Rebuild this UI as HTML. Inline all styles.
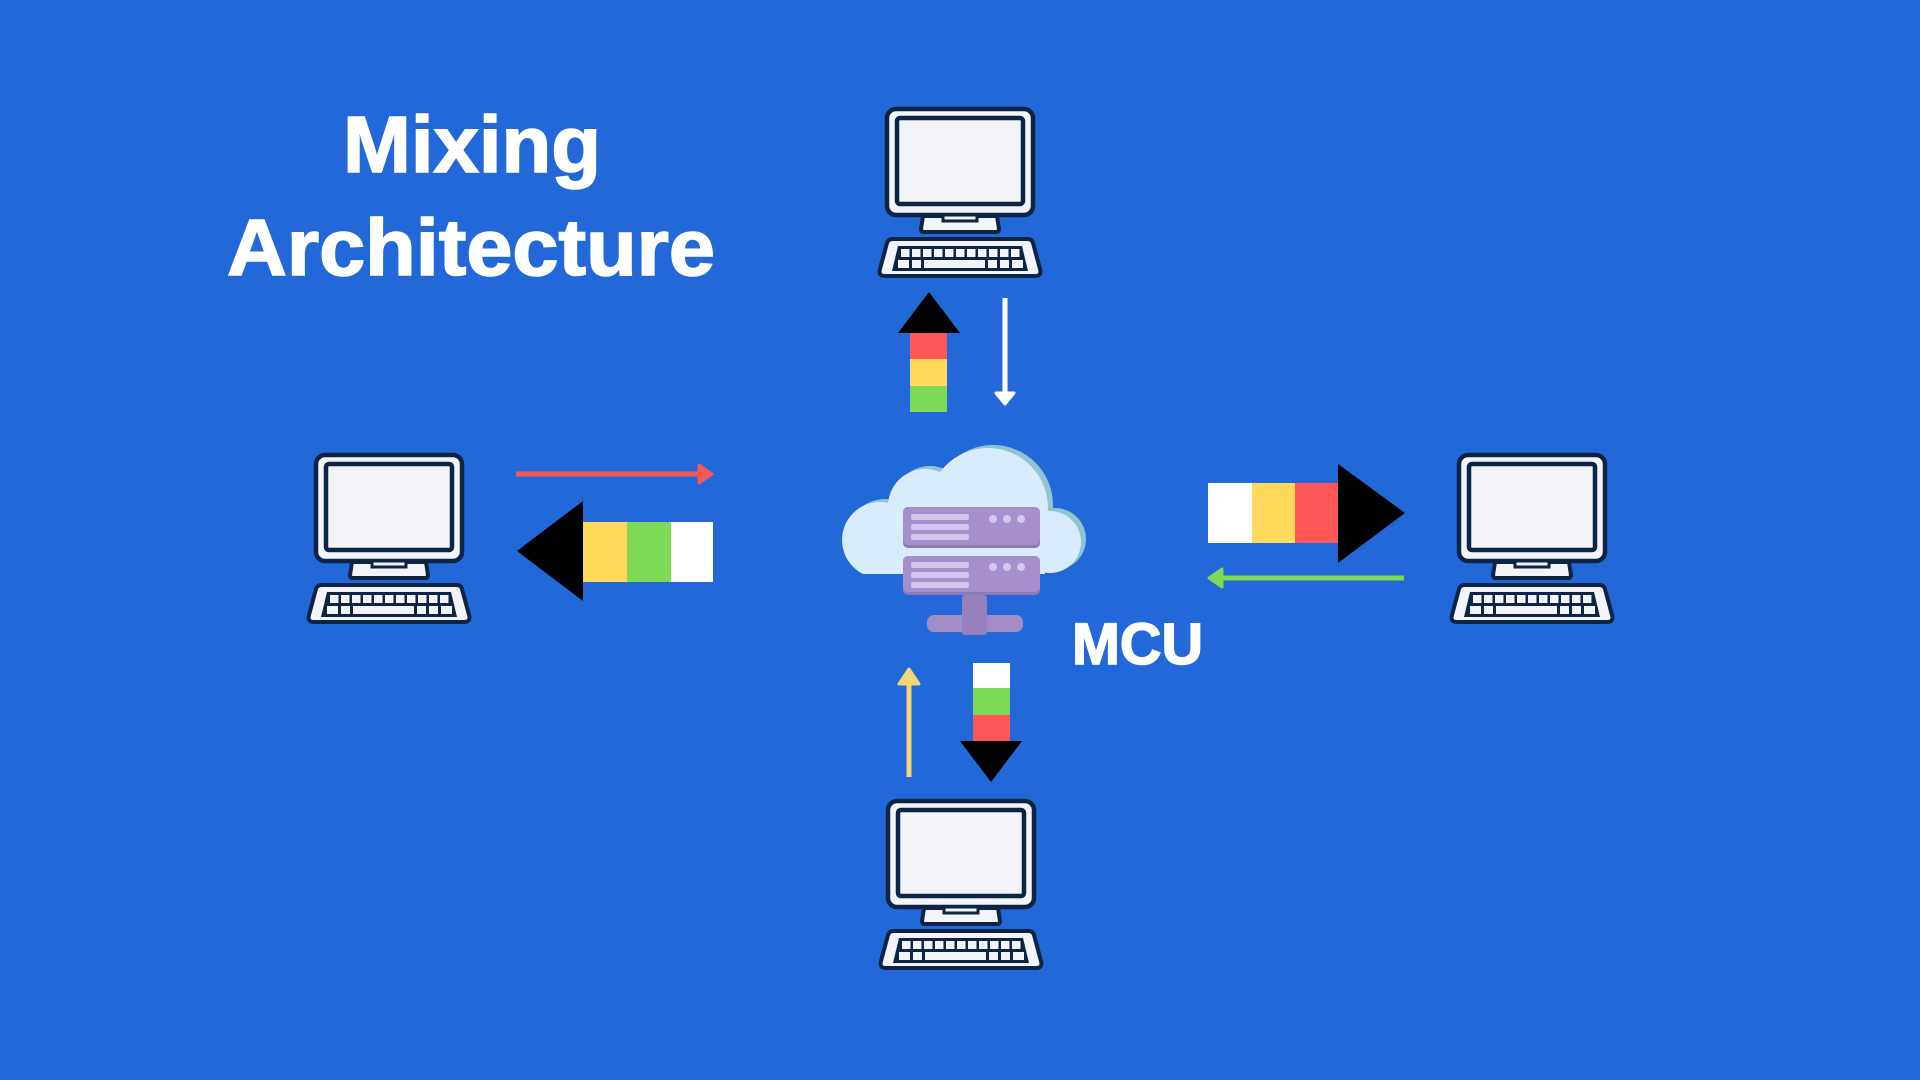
<!DOCTYPE html>
<html>
<head>
<meta charset="utf-8">
<style>
  html, body { margin:0; padding:0; }
  body { width:1920px; height:1080px; overflow:hidden; background:#2268d8; }
  svg { display:block; }
  .t { font-family:"Liberation Sans", "DejaVu Sans", sans-serif; font-weight:bold; fill:#ffffff; stroke:#ffffff; stroke-width:1.6; paint-order:stroke; }
</style>
</head>
<body>
<svg width="1920" height="1080" viewBox="0 0 1920 1080" xmlns="http://www.w3.org/2000/svg">
  <defs>
    <g id="pc">
      <rect x="9" y="1" width="146" height="106" rx="9" fill="#f2f4f7" stroke="#0d2444" stroke-width="4.5"/>
      <rect x="19" y="10" width="126" height="86" rx="3" fill="#f2f4f7" stroke="#0d2444" stroke-width="4.5"/>
      <path d="M45 108 L119 108 L121 121 Q121 124 118 124 L46 124 Q43 124 43 121 Z" fill="#f2f4f7" stroke="#0d2444" stroke-width="4" stroke-linejoin="round"/>
      <rect x="65" y="107" width="34" height="6" fill="#f2f4f7" stroke="#0d2444" stroke-width="3"/>
      <path d="M15 131 L149 131 Q154 131 155 135 L162 161 Q164 168 157 168 L7 168 Q0 168 2 161 L9 135 Q10 131 15 131 Z" fill="#f2f4f7" stroke="#0d2444" stroke-width="4" stroke-linejoin="round"/>
      <path d="M20 138 L144 138 L150 163 L14 163 Z" fill="#0d2444"/>
      <g fill="#f2f4f7">
        <rect x="23" y="141" width="8.5" height="8"/>
        <rect x="34" y="141" width="8.5" height="8"/>
        <rect x="45" y="141" width="8.5" height="8"/>
        <rect x="56" y="141" width="8.5" height="8"/>
        <rect x="67" y="141" width="8.5" height="8"/>
        <rect x="78" y="141" width="8.5" height="8"/>
        <rect x="89" y="141" width="8.5" height="8"/>
        <rect x="100" y="141" width="8.5" height="8"/>
        <rect x="111" y="141" width="8.5" height="8"/>
        <rect x="122" y="141" width="8.5" height="8"/>
        <rect x="133" y="141" width="8.5" height="8"/>
        <rect x="20" y="152" width="11" height="8"/>
        <rect x="34" y="152" width="9" height="8"/>
        <rect x="46" y="152" width="61" height="8"/>
        <rect x="110" y="152" width="9" height="8"/>
        <rect x="122" y="152" width="9" height="8"/>
        <rect x="134" y="152" width="11" height="8"/>
      </g>
    </g>
    <g id="cloudshape">
      <circle cx="880" cy="540" r="38"/>
      <circle cx="925" cy="506" r="37"/>
      <circle cx="988" cy="508" r="60"/>
      <circle cx="1050" cy="542" r="31"/>
      <rect x="878" y="520" width="167" height="54"/>
    </g>
    <clipPath id="cloudclip"><rect x="800" y="400" width="320" height="174"/></clipPath>
  </defs>

  <!-- Title -->
  <text class="t" x="472" y="172" font-size="80" text-anchor="middle" textLength="258" lengthAdjust="spacingAndGlyphs">Mixing</text>
  <text class="t" x="471" y="275" font-size="80" text-anchor="middle" textLength="488" lengthAdjust="spacingAndGlyphs">Architecture</text>

  <!-- Computers -->
  <use href="#pc" x="878" y="108"/>
  <use href="#pc" x="307" y="454"/>
  <use href="#pc" x="1450" y="454"/>
  <use href="#pc" x="879" y="800"/>

  <!-- Cloud -->
  <g clip-path="url(#cloudclip)">
    <use href="#cloudshape" transform="translate(5,-3)" fill="#8fc4d2"/>
    <use href="#cloudshape" fill="#d8ecfb"/>
  </g>

  <!-- Server -->
  <rect x="927" y="615" width="96" height="17" rx="7" fill="#a28cc8"/>
  <rect x="962" y="595" width="25" height="40" rx="3" fill="#9580bd"/>
  <rect x="903" y="507" width="137" height="41" rx="5" fill="#8f79b8"/>
  <rect x="903" y="507" width="137" height="38" rx="5" fill="#a690cb"/>
  <rect x="903" y="556" width="137" height="39" rx="5" fill="#8f79b8"/>
  <rect x="903" y="556" width="137" height="36" rx="5" fill="#a690cb"/>
  <g fill="#d4c7ee">
    <rect x="911" y="514" width="58" height="6" rx="2"/>
    <rect x="911" y="524" width="58" height="6" rx="2"/>
    <rect x="911" y="534" width="58" height="6" rx="2"/>
    <rect x="911" y="562" width="58" height="6" rx="2"/>
    <rect x="911" y="572" width="58" height="6" rx="2"/>
    <rect x="911" y="582" width="58" height="6" rx="2"/>
    <circle cx="993" cy="519" r="4"/>
    <circle cx="1007" cy="519" r="4"/>
    <circle cx="1021" cy="519" r="4"/>
    <circle cx="993" cy="567" r="4"/>
    <circle cx="1007" cy="567" r="4"/>
    <circle cx="1021" cy="567" r="4"/>
  </g>

  <!-- MCU label -->
  <text class="t" x="1072" y="664" font-size="58" textLength="131" lengthAdjust="spacingAndGlyphs">MCU</text>

  <!-- Top big up arrow -->
  <polygon points="929,292 898,333 960,333" fill="#000"/>
  <rect x="910" y="333" width="37" height="26" fill="#ff5757"/>
  <rect x="910" y="359" width="37" height="27" fill="#ffd95a"/>
  <rect x="910" y="386" width="37" height="26" fill="#7ed957"/>

  <!-- Top thin white down arrow -->
  <line x1="1005" y1="298" x2="1005" y2="396" stroke="#ffffff" stroke-width="5"/>
  <polygon points="996,393 1014,393 1005,404" fill="#ffffff" stroke="#ffffff" stroke-width="3" stroke-linejoin="round"/>

  <!-- Left red thin arrow -->
  <line x1="516" y1="474" x2="702" y2="474" stroke="#f25a5a" stroke-width="5"/>
  <polygon points="699,465 699,483 712,474" fill="#f25a5a" stroke="#f25a5a" stroke-width="3" stroke-linejoin="round"/>

  <!-- Left big arrow -->
  <polygon points="517,551 583,501 583,601" fill="#000"/>
  <rect x="583" y="522" width="44" height="60" fill="#ffd95a"/>
  <rect x="627" y="522" width="44" height="60" fill="#7ed957"/>
  <rect x="671" y="522" width="42" height="60" fill="#ffffff"/>

  <!-- Right big arrow -->
  <rect x="1208" y="483" width="44" height="60" fill="#ffffff"/>
  <rect x="1252" y="483" width="43" height="60" fill="#ffd95a"/>
  <rect x="1295" y="483" width="43" height="60" fill="#ff5757"/>
  <polygon points="1338,464 1338,563 1405,513" fill="#000"/>

  <!-- Right green thin arrow -->
  <line x1="1219" y1="578" x2="1404" y2="578" stroke="#7ed957" stroke-width="5"/>
  <polygon points="1222,569 1222,587 1209,578" fill="#7ed957" stroke="#7ed957" stroke-width="3" stroke-linejoin="round"/>

  <!-- Bottom yellow thin arrow -->
  <line x1="909" y1="681" x2="909" y2="777" stroke="#f3d678" stroke-width="5"/>
  <polygon points="899,684 919,684 909,669" fill="#f3d678" stroke="#f3d678" stroke-width="3" stroke-linejoin="round"/>

  <!-- Bottom big down arrow -->
  <rect x="973" y="663" width="37" height="25" fill="#ffffff"/>
  <rect x="973" y="688" width="37" height="27" fill="#7ed957"/>
  <rect x="973" y="715" width="37" height="26" fill="#ff5757"/>
  <polygon points="960,741 1022,741 991,782" fill="#000"/>
</svg>
</body>
</html>
